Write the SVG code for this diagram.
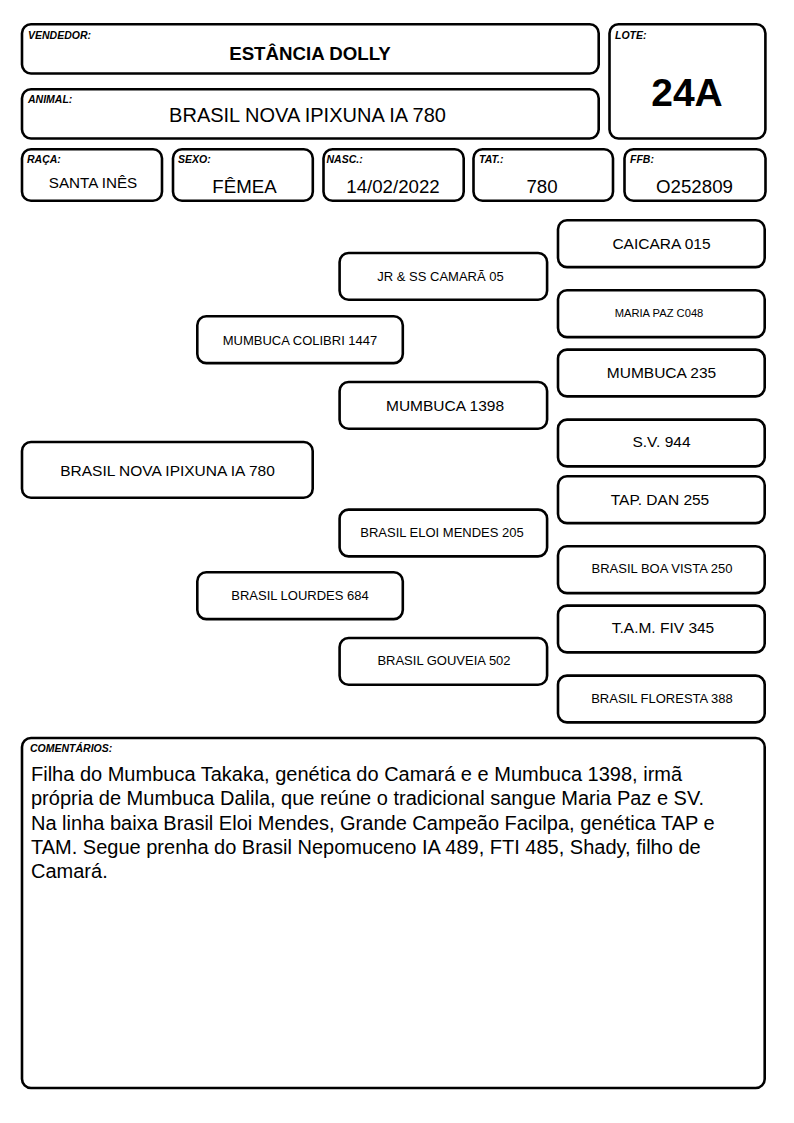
<svg xmlns="http://www.w3.org/2000/svg" width="794" height="1123" viewBox="0 0 794 1123">
<style>
.b{fill:#fff;stroke:#000;stroke-width:2.6}
.lbl{font-family:"Liberation Sans",Arial,sans-serif;font-size:10.5px;font-weight:bold;font-style:italic;fill:#000}
.val{font-family:"Liberation Sans",Arial,sans-serif;fill:#000;text-anchor:middle}
.s{font-size:13px}
.m{font-size:15.5px}
.c{font-family:"Liberation Sans",Arial,sans-serif;font-size:20px;fill:#000}
</style>
<rect width="794" height="1123" fill="#fff"/>
<g id="vendedor"><rect class="b" x="22" y="24.3" width="576.7" height="49.2" rx="9"/><text class="lbl" x="28" y="38.5">VENDEDOR:</text><text class="val" x="310" y="60" style="font-size:18.7px;font-weight:bold">ESTÂNCIA DOLLY</text></g>
<g id="animal"><rect class="b" x="22" y="89.3" width="576.7" height="49.2" rx="9"/><text class="lbl" x="28" y="103">ANIMAL:</text><text class="val" x="307.5" y="122" style="font-size:20px">BRASIL NOVA IPIXUNA IA 780</text></g>
<g id="lote"><rect class="b" x="609.5" y="24.3" width="155.9" height="114.2" rx="9"/><text class="lbl" x="615" y="38.5">LOTE:</text><text class="val" x="687" y="105.5" style="font-size:39px;font-weight:bold">24A</text></g>
<g id="raca"><rect class="b" x="22" y="149.3" width="140" height="51.4" rx="9"/><text class="lbl" x="27" y="163">RAÇA:</text><text class="val" x="93" y="188" style="font-size:15.2px">SANTA INÊS</text></g>
<g id="sexo"><rect class="b" x="173" y="149.3" width="139.8" height="51.4" rx="9"/><text class="lbl" x="178" y="163">SEXO:</text><text class="val" x="244.5" y="193" style="font-size:18.7px">FÊMEA</text></g>
<g id="nasc"><rect class="b" x="323.5" y="149.3" width="140.2" height="51.4" rx="9"/><text class="lbl" x="326.5" y="163">NASC.:</text><text class="val" x="393" y="193" style="font-size:18.7px">14/02/2022</text></g>
<g id="tat"><rect class="b" x="473.5" y="149.3" width="139.5" height="51.4" rx="9"/><text class="lbl" x="479" y="163">TAT.:</text><text class="val" x="542" y="193" style="font-size:18.7px">780</text></g>
<g id="ffb"><rect class="b" x="624.5" y="149.3" width="141" height="51.4" rx="9"/><text class="lbl" x="630" y="163">FFB:</text><text class="val" x="694.5" y="193" style="font-size:18.7px">O252809</text></g>
<g id="connectors"></g>
<g id="p-animal"><rect class="b" x="22" y="442" width="290.7" height="55.7" rx="9"/><text class="val" x="167.5" y="476" style="font-size:15.5px">BRASIL NOVA IPIXUNA IA 780</text></g>
<g id="p-sire"><rect class="b" x="197.3" y="316.3" width="205.5" height="46.8" rx="9"/><text class="val s" x="300" y="344.5">MUMBUCA COLIBRI 1447</text></g>
<g id="p-dam"><rect class="b" x="197.3" y="572.3" width="205.5" height="46.8" rx="9"/><text class="val s" x="300" y="600">BRASIL LOURDES 684</text></g>
<g id="p-ss"><rect class="b" x="339.6" y="253" width="207.5" height="46.8" rx="9"/><text class="val s" x="440.5" y="281">JR &amp; SS CAMARÃ 05</text></g>
<g id="p-sd"><rect class="b" x="339.6" y="382" width="207.5" height="46.8" rx="9"/><text class="val m" x="445" y="411">MUMBUCA 1398</text></g>
<g id="p-ds"><rect class="b" x="339.6" y="509.6" width="207.5" height="46.8" rx="9"/><text class="val s" x="442" y="537">BRASIL ELOI MENDES 205</text></g>
<g id="p-dd"><rect class="b" x="339.6" y="638" width="207.5" height="46.8" rx="9"/><text class="val s" x="444" y="665">BRASIL GOUVEIA 502</text></g>
<g id="p-sss"><rect class="b" x="558" y="220.3" width="206.7" height="46.8" rx="9"/><text class="val m" x="661.5" y="248.5">CAICARA 015</text></g>
<g id="p-ssd"><rect class="b" x="558" y="290.3" width="206.7" height="46.8" rx="9"/><text class="val" x="659" y="317" style="font-size:11.2px">MARIA PAZ C048</text></g>
<g id="p-sds"><rect class="b" x="558" y="349.6" width="206.7" height="46.8" rx="9"/><text class="val m" x="661.5" y="377.5">MUMBUCA 235</text></g>
<g id="p-sdd"><rect class="b" x="558" y="419.6" width="206.7" height="46.8" rx="9"/><text class="val m" x="661.5" y="447">S.V. 944</text></g>
<g id="p-dss"><rect class="b" x="558" y="476.3" width="206.7" height="46.8" rx="9"/><text class="val m" x="660" y="505">TAP. DAN 255</text></g>
<g id="p-dsd"><rect class="b" x="558" y="546.3" width="206.7" height="46.8" rx="9"/><text class="val s" x="662" y="573">BRASIL BOA VISTA 250</text></g>
<g id="p-dds"><rect class="b" x="558" y="605.6" width="206.7" height="46.8" rx="9"/><text class="val m" x="663" y="633">T.A.M. FIV 345</text></g>
<g id="p-ddd"><rect class="b" x="558" y="675.6" width="206.7" height="46.8" rx="9"/><text class="val s" x="662" y="703">BRASIL FLORESTA 388</text></g>
<g id="comentarios"><rect class="b" x="22" y="738" width="742.7" height="350" rx="9"/><text class="lbl" x="30" y="752">COMENTÁRIOS:</text>
<text class="c" x="31" y="781">Filha do Mumbuca Takaka, genética do Camará e e Mumbuca 1398, irmã</text>
<text class="c" x="31" y="805.3">própria de Mumbuca Dalila, que reúne o tradicional sangue Maria Paz e SV.</text>
<text class="c" x="31" y="829.6">Na linha baixa Brasil Eloi Mendes, Grande Campeão Facilpa, genética TAP e</text>
<text class="c" x="31" y="853.9">TAM. Segue prenha do Brasil Nepomuceno IA 489, FTI 485, Shady, filho de</text>
<text class="c" x="31" y="878.2">Camará.</text>
</g>
</svg>
